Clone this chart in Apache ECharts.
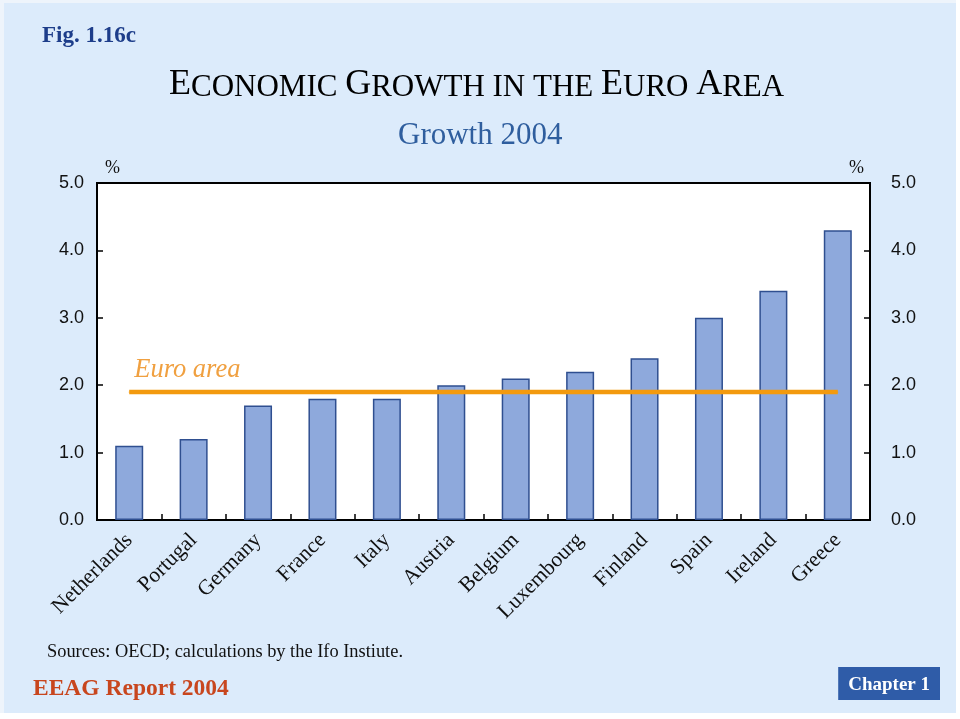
<!DOCTYPE html>
<html>
<head>
<meta charset="utf-8">
<script src="https://cdn.jsdelivr.net/npm/echarts@6/dist/echarts.min.js"></script>
<style>
html,body{margin:0;padding:0;background:#ffffff;}
#c{width:960px;height:719px;background:#dcebfb;box-shadow:inset -4px -6px 0 #ffffff, inset 4px 3px 0 #eef4fb;}
</style>
</head>
<body>
<div id="c"></div>
<script>
// ---- data ----
const categories = ['Netherlands','Portugal','Germany','France','Italy','Austria','Belgium','Luxembourg','Finland','Spain','Ireland','Greece'];
const growth2004 = [1.1, 1.2, 1.7, 1.8, 1.8, 2.0, 2.1, 2.2, 2.4, 3.0, 3.4, 4.3];
const euroArea = [1.9, 1.9, 1.9, 1.9, 1.9, 1.9, 1.9, 1.9, 1.9, 1.9, 1.9, 1.9];
const yTickLabels = ['0.0','1.0','2.0','3.0','4.0','5.0'];

const serif = '"Liberation Serif", "Times New Roman", serif';
const sans = '"Liberation Sans", Arial, sans-serif';

const chart = echarts.init(document.getElementById('c'), null, {renderer:'canvas'});

const yAxisBase = {
  type: 'value', min: 0, max: 5, interval: 1,
  name: '%',
  nameLocation: 'end',
  nameGap: 6,
  axisLine: {show: true, lineStyle: {color: '#000', width: 2}},
  axisTick: {show: true, inside: true, length: 6, lineStyle: {color: '#000', width: 1.5}},
  splitLine: {show: false},
  axisLabel: {color: '#111', fontFamily: sans, fontSize: 18,
    formatter: v => yTickLabels[Math.round(v)]}
};

const option = {
  animation: false,
  title: [
    {
      text: '{b|E}{s|CONOMIC }{b|G}{s|ROWTH IN THE }{b|E}{s|URO }{b|A}{s|REA}',
      left: 164, top: 62,
      textStyle: {
        fontWeight: 'normal', fontFamily: serif, fontSize: 31,
        rich: {
          b: {fontFamily: serif, fontSize: 36, fontWeight: 'normal', color: '#000', verticalAlign: 'bottom'},
          s: {fontFamily: serif, fontSize: 31, fontWeight: 'normal', color: '#000', verticalAlign: 'bottom'}
        }
      }
    },
    {
      text: 'Growth 2004', left: 393, top: 115,
      textStyle: {fontFamily: serif, fontSize: 31, fontWeight: 'normal', color: '#2f5e9e'}
    },
    {
      text: 'Fig. 1.16c', left: 37, top: 20,
      textStyle: {fontFamily: serif, fontSize: 23, fontWeight: 'bold', color: '#1d3d8a'}
    },
    {
      text: 'Sources: OECD; calculations by the Ifo Instiute.', left: 42, top: 638,
      textStyle: {fontFamily: serif, fontSize: 18.4, fontWeight: 'normal', color: '#111'}
    },
    {
      text: 'EEAG Report 2004', left: 28, top: 672,
      textStyle: {fontFamily: serif, fontSize: 23.5, fontWeight: 'bold', color: '#c8461e'}
    },
    {
      text: 'Chapter 1', right: 20, top: 667, padding: [9, 10, 5, 10],
      backgroundColor: '#2f5ca8',
      textStyle: {fontFamily: serif, fontSize: 19, fontWeight: 'bold', color: '#ffffff'}
    }
  ],
  grid: {
    left: 97, right: 90, top: 183, bottom: 199,
    show: true, backgroundColor: '#ffffff', borderColor: '#000', borderWidth: 2,
    containLabel: false
  },
  xAxis: {
    type: 'category', data: categories,
    axisLine: {show: true, lineStyle: {color: '#000', width: 2}},
    axisTick: {show: true, inside: true, length: 6, lineStyle: {color: '#000', width: 1.5}},
    axisLabel: {rotate: 45, margin: 17, color: '#111', fontFamily: serif, fontSize: 21.5, interval: 0},
    splitLine: {show: false}
  },
  yAxis: [
    Object.assign({}, yAxisBase, {
      position: 'left',
      nameTextStyle: {fontFamily: serif, fontSize: 18, color: '#111', align: 'left', padding: [0, 0, 0, 8]},
      axisLabel: Object.assign({}, yAxisBase.axisLabel, {margin: 13})
    }),
    Object.assign({}, yAxisBase, {
      position: 'right',
      nameTextStyle: {fontFamily: serif, fontSize: 18, color: '#111', align: 'right', padding: [0, 6, 0, 0]},
      axisLabel: Object.assign({}, yAxisBase.axisLabel, {margin: 21})
    })
  ],
  series: [
    {
      type: 'bar', data: growth2004, barWidth: 28, yAxisIndex: 0,
      itemStyle: {color: '#8ea9dc', borderColor: '#2f4f90', borderWidth: 1.5}
    },
    {
      type: 'line', yAxisIndex: 0, z: 5,
      data: euroArea.map((v, i) => i === 0 ? {
        value: v,
        label: {
          show: true, formatter: 'Euro area', position: 'top', align: 'left',
          distance: 8, offset: [5, 0],
          fontFamily: serif, fontStyle: 'italic', fontSize: 26.5, color: '#f0a040'
        }
      } : v),
      symbol: 'circle', symbolSize: 1, showSymbol: true,
      itemStyle: {color: '#f39a0e'},
      lineStyle: {color: '#f39a0e', width: 4.5},
      label: {show: false}
    }
  ]
};
chart.setOption(option);
</script>
</body>
</html>
